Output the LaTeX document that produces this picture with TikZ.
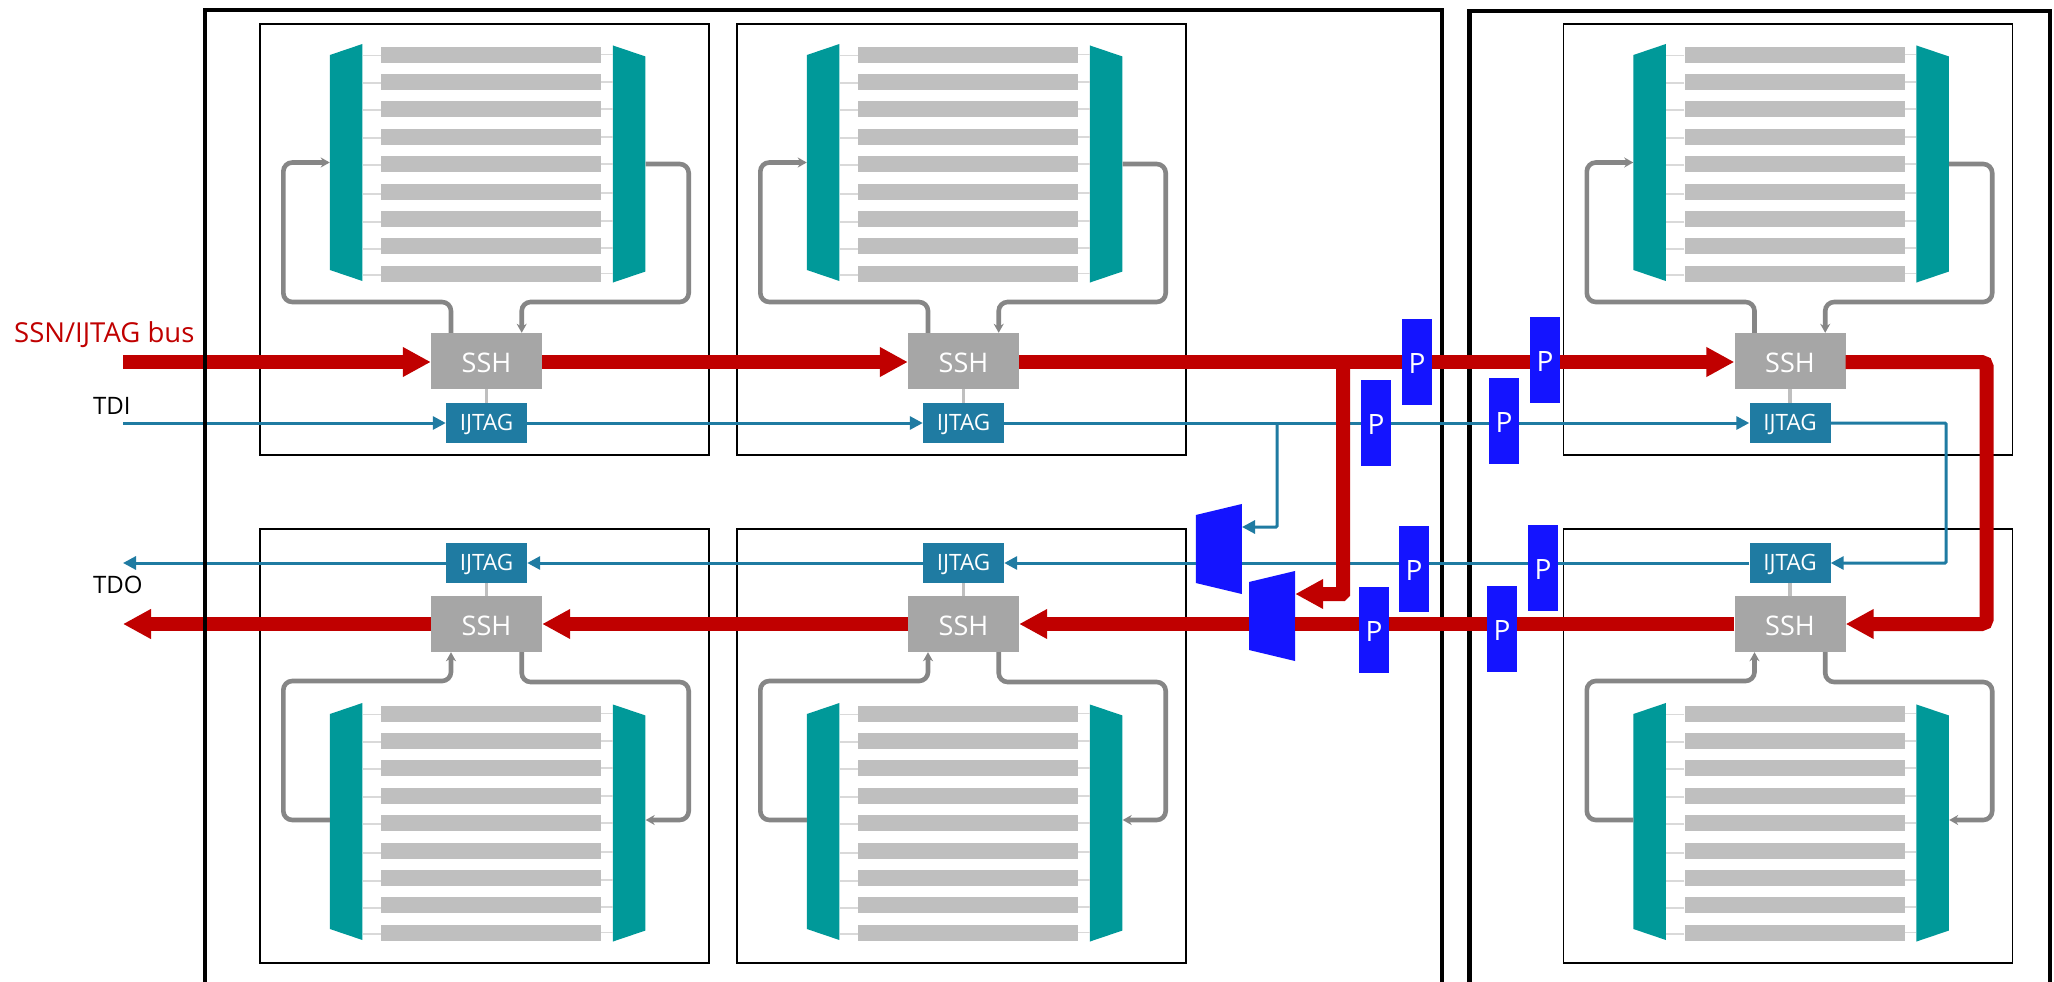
\documentclass[tikz,border=0pt]{standalone}
\usepackage{fontspec}
\setmainfont{Open Sans}
\usetikzlibrary{arrows.meta,shapes.geometric}
\definecolor{busred}{RGB}{192,0,0}
\definecolor{jtagblue}{RGB}{31,123,162}
\definecolor{muxteal}{RGB}{0,153,153}
\definecolor{padblue}{RGB}{20,20,255}
\definecolor{sshgray}{RGB}{166,166,166}
\definecolor{bargray}{RGB}{191,191,191}
\definecolor{loopgray}{RGB}{134,134,134}
\definecolor{stubgray}{RGB}{217,217,217}
\tikzset{
  cellbox/.style={draw=black,line width=1.5pt,minimum width=449pt,inner sep=0pt},
  ssh/.style={fill=sshgray,text=white,minimum width=111pt,minimum height=56pt,inner sep=0pt,
    text height=24pt,font=\fontsize{27}{30}\selectfont},
  jtag/.style={fill=jtagblue,text=white,minimum width=81pt,minimum height=40pt,inner sep=0pt,
    text height=20pt,font=\fontsize{22.5}{26}\selectfont},
  pad/.style={fill=padblue,text=white,minimum width=30pt,minimum height=86pt,inner sep=0pt,
    text height=23pt,font=\fontsize{28}{30}\selectfont},
  bar/.style={fill=bargray,minimum width=220pt,minimum height=16pt,inner sep=0pt},
  muxbase/.style={trapezium,fill=#1,inner sep=0pt,text width=1pt,text height=1pt,trapezium stretches},
  muxl/.style={muxbase=muxteal,trapezium angle=87.07,shape border rotate=90,minimum width=237pt,minimum height=32.5pt},
  muxr/.style={muxbase=muxteal,trapezium angle=87.07,shape border rotate=270,minimum width=237pt,minimum height=32.5pt},
  muxbig/.style={muxbase=padblue,trapezium angle=80.8,shape border rotate=90,minimum width=90pt,minimum height=46pt},
  stub/.style={stubgray,line width=1.2pt},
  link/.style={bargray,line width=3.5pt},
  chip/.style={black,line width=4.5pt},
  loopline/.style={loopgray,line width=4.6pt,rounded corners=9pt},
  looparr/.style={loopline,-{Stealth[length=9pt,width=10pt]}},
  bus/.style={busred,line width=14pt},
  busarr/.style={bus,-{Triangle[length=28pt,width=28pt]}},
  tap/.style={jtagblue,line width=3pt},
  taparr/.style={tap,-{Triangle[length=13pt,width=13pt]}},
  lbl/.style={inner sep=0pt,font=\fontsize{24}{26}\selectfont},
}
% one memory block: two muxes and nine bars, y offset in #1
\newcommand{\memarray}[1]{
  \node[muxl] (ml) at (346.2,162.5+#1) {};
  \node[muxr] (mr) at (629.2,164+#1) {};
  \foreach \i/\y/\ly/\ry in {1/55/55.3/54.5,2/82/83/82,3/109/110/109,4/137/138/137,5/164/165/164,
      6/192/194/193,7/219/222/221,8/246/249/248,9/274/275/273.5} {
    \node[bar] (bar\i) at (491,\y+#1) {};
    \draw[stub] (bar\i.west |- 0,\ly+#1) -- (ml.east |- 0,\ly+#1);
    \draw[stub] (bar\i.east |- 0,\ry+#1) -- (mr.west |- 0,\ry+#1);
  }
}
\begin{document}
\begin{tikzpicture}[x=1pt,y=-1pt]
  \useasboundingbox (0,0) rectangle (2054,982);
  \fill[white] (0,0) rectangle (2054,982);
  % dies
  \draw[chip] (205,982) -- (205,10) -- (1442,10) -- (1442,982);
  \draw[chip] (1469.5,982) -- (1469.5,11) -- (2050,11) -- (2050,982);
  % upper row of blocks
  \foreach \c/\dx in {ta/0,tb/477,tc/1303.5} {
    \begin{scope}[shift={(\dx,0)},name prefix=\c-]
      \node[cellbox,minimum height=431pt] (cell) at (484.7,239.3) {};
      \memarray{0}
      \node[ssh] (ssh) at (486.5,361) {SSH};
      \node[jtag] (jtag) at (486.5,423) {IJTAG};
      \draw[link] (ssh) -- (jtag);
      \draw[looparr] ([xshift=-35.5pt]ssh.north) -- (451,302) -- (283.3,302) |- (ml.west);
      \draw[looparr] (mr.east) -- (688.7,164) -- (688.7,302) -- (521.7,302) -- ([xshift=35.2pt]ssh.north);
    \end{scope}
  }
  % lower row of blocks
  \foreach \c/\dx in {ba/0,bb/477,bc/1303.5} {
    \begin{scope}[shift={(\dx,0)},name prefix=\c-]
      \node[cellbox,minimum height=434pt] (cell) at (484.7,746) {};
      \memarray{659}
      \node[ssh] (ssh) at (486.5,624) {SSH};
      \node[jtag] (jtag) at (486.5,563) {IJTAG};
      \draw[link] (ssh) -- (jtag);
      \draw[looparr] ([yshift=1.5pt]ml.west) -- (283.3,820) -- (283.3,681) -- (451,681) -- ([xshift=-35.5pt]ssh.south);
      \draw[looparr] ([xshift=35.2pt]ssh.south) -- (521.7,682) -- (688.7,682) -- (688.7,820) -- ([yshift=3pt]mr.east);
    \end{scope}
  }
  % muxes between the dies
  \node[muxbig] (muxjtag) at (1218.8,549) {};
  \node[muxbig] (muxbus) at (1272,616) {};
  \coordinate (tdiin) at (123,423);
  \coordinate (tdoout) at (123,563);
  \coordinate (busin) at (123,362);
  \coordinate (busout) at (123,624);
  \coordinate (jtagtap) at (1277,423);
  \coordinate (bustap) at (1343,362);
  % test access line
  \draw[taparr] (tdiin) -- (ta-jtag);
  \draw[taparr] (ta-jtag) -- (tb-jtag);
  \draw[taparr] (tb-jtag) -- (tc-jtag);
  \draw[taparr,rounded corners=1pt] (tc-jtag) -- (1946,423) -- (1946,563) -- (bc-jtag);
  \draw[tap] (bc-jtag) -- (muxjtag.east |- bc-jtag);
  \draw[taparr] (muxjtag.west |- bb-jtag) -- (bb-jtag);
  \draw[taparr] (bb-jtag) -- (ba-jtag);
  \draw[taparr] (ba-jtag) -- (tdoout);
  \draw[taparr,rounded corners=1pt] (jtagtap) |- ([yshift=22pt]muxjtag.east);
  % scan bus
  \draw[busarr] (busin) -- ([yshift=-1pt]ta-ssh.west);
  \draw[busarr] ([yshift=-1pt]ta-ssh.east) -- ([yshift=-1pt]tb-ssh.west);
  \draw[busarr] ([yshift=-1pt]tb-ssh.east) -- ([yshift=-1pt]tc-ssh.west);
  \draw[busarr,rounded corners=5pt] ([yshift=-1pt]tc-ssh.east) -- (1986.7,362) -- (1986.7,624) -- (bc-ssh.east);
  \draw[bus] (bc-ssh) -- (muxbus.east |- bc-ssh);
  \draw[busarr] (muxbus.west |- bb-ssh) -- (bb-ssh);
  \draw[busarr] (bb-ssh) -- (ba-ssh);
  \draw[busarr] (ba-ssh) -- (busout);
  \draw[busarr,rounded corners=1pt] (bustap) |- ([yshift=22pt]muxbus.east);
  % left die edge sits over the inputs
  \draw[chip] (205,340) -- (205,640);
  % pads
  \node[pad] (p1) at (1417,362) {P};
  \node[pad] (p2) at (1545,360) {P};
  \node[pad] (p3) at (1376,423) {P};
  \node[pad] (p4) at (1504,421) {P};
  \node[pad] (p5) at (1414,569) {P};
  \node[pad] (p6) at (1543,568) {P};
  \node[pad] (p7) at (1374,630) {P};
  \node[pad] (p8) at (1502,629) {P};
  % labels
  \node[lbl,text=busred,anchor=west,font=\fontsize{27.5}{30}\selectfont] (buslbl) at (14,335) {SSN/IJTAG bus};
  \node[lbl,anchor=west] (tdilbl) at (93,406) {TDI};
  \node[lbl,anchor=west] (tdolbl) at (93,585) {TDO};
\end{tikzpicture}
\end{document}
